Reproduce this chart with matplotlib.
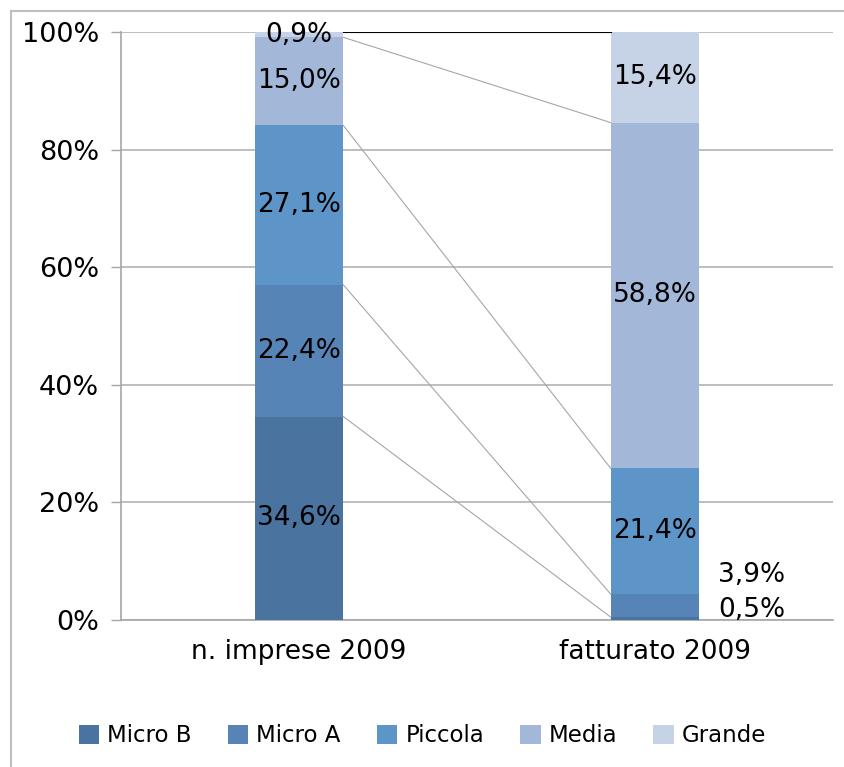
import matplotlib
matplotlib.use("Agg")
import matplotlib.pyplot as plt
from matplotlib.lines import Line2D
import numpy as np

# Share of firms and of turnover by company size class, 2009
categories = ["n. imprese 2009", "fatturato 2009"]
classes = ["Micro B", "Micro A", "Piccola", "Media", "Grande"]
imprese = [34.6, 22.4, 27.1, 15.0, 0.9]
fatturato = [0.5, 3.9, 21.4, 58.8, 15.4]
colors = ["#4A73A0", "#5784B7", "#5E95C9", "#A3B8D9", "#C6D2E5"]
y_ticks = [0, 20, 40, 60, 80, 100]
y_ticklabels = ["0%", "20%", "40%", "60%", "80%", "100%"]

plt.rcParams["font.family"] = ["DejaVu Sans"]


def pct(v):
    return f"{v:.1f}%".replace(".", ",")


W, H = 845, 767
fig = plt.figure(figsize=(W / 100, H / 100), dpi=100)
ax = fig.add_axes([121 / W, 1 - 620 / H, (833 - 121) / W, (620 - 32) / H])

x = np.arange(len(categories))
bar_w = 0.249
values = np.array([imprese, fatturato])  # shape (2, 5)
bottoms = np.zeros(len(categories))
tops = []
for i, cls in enumerate(classes):
    vals = values[:, i]
    ax.bar(x, vals, bar_w, bottom=bottoms, color=colors[i], label=cls,
           zorder=3, linewidth=0)
    for j in range(len(categories)):
        if j == 1 and i in (0, 1):
            continue
        ax.text(x[j], bottoms[j] + vals[j] / 2, pct(vals[j]), ha="center",
                va="center", fontsize=19, color="black", zorder=5)
    bottoms = bottoms + vals
    tops.append(bottoms.copy())

# Small turnover shares are labelled beside the bar
ax.text(x[1] + 0.272, 7.65, pct(fatturato[1]), ha="center", va="center",
        fontsize=19, zorder=5)
ax.text(x[1] + 0.272, 1.7, pct(fatturato[0]), ha="center", va="center",
        fontsize=19, zorder=5)

# Series lines joining segment tops between the two bars
for k, t in enumerate(tops):
    col = "black" if k == len(tops) - 1 else "#A6A6A6"
    ax.plot([x[0] + bar_w / 2, x[1] - bar_w / 2], [t[0], t[1]],
            color=col, linewidth=0.8, zorder=4)

ax.set_xlim(-0.5, 1.5)
ax.set_ylim(0, 100)
ax.set_yticks(y_ticks)
ax.set_yticklabels(y_ticklabels, fontsize=19.5)
ax.set_xticks(x)
ax.set_xticklabels(categories, fontsize=19)
ax.tick_params(axis="y", length=7, width=1, color="#A6A6A6", pad=9)
ax.tick_params(axis="x", length=0, pad=14)
ax.yaxis.grid(True, color="#B3B3B3", linewidth=1.2, zorder=0)
ax.set_axisbelow(True)
for side in ("top", "right"):
    ax.spines[side].set_visible(False)
for side in ("left", "bottom"):
    ax.spines[side].set_color("#A6A6A6")
    ax.spines[side].set_linewidth(1.2)

fig.legend(loc="center", bbox_to_anchor=(0.5, 1 - 736 / H), ncol=5,
           frameon=False, fontsize=16.5, handlelength=0.9,
           handleheight=0.9, handletextpad=0.35, columnspacing=1.57)

# Chart-area frame (left and top edges)
fx, fy = 11 / W, 1 - 11 / H
fig.add_artist(Line2D([fx, fx], [0, fy], transform=fig.transFigure,
                      color="#BFBFBF", linewidth=1.5))
fig.add_artist(Line2D([fx, 1], [fy, fy], transform=fig.transFigure,
                      color="#BFBFBF", linewidth=1.5))

fig.savefig("out.png", dpi=100)
